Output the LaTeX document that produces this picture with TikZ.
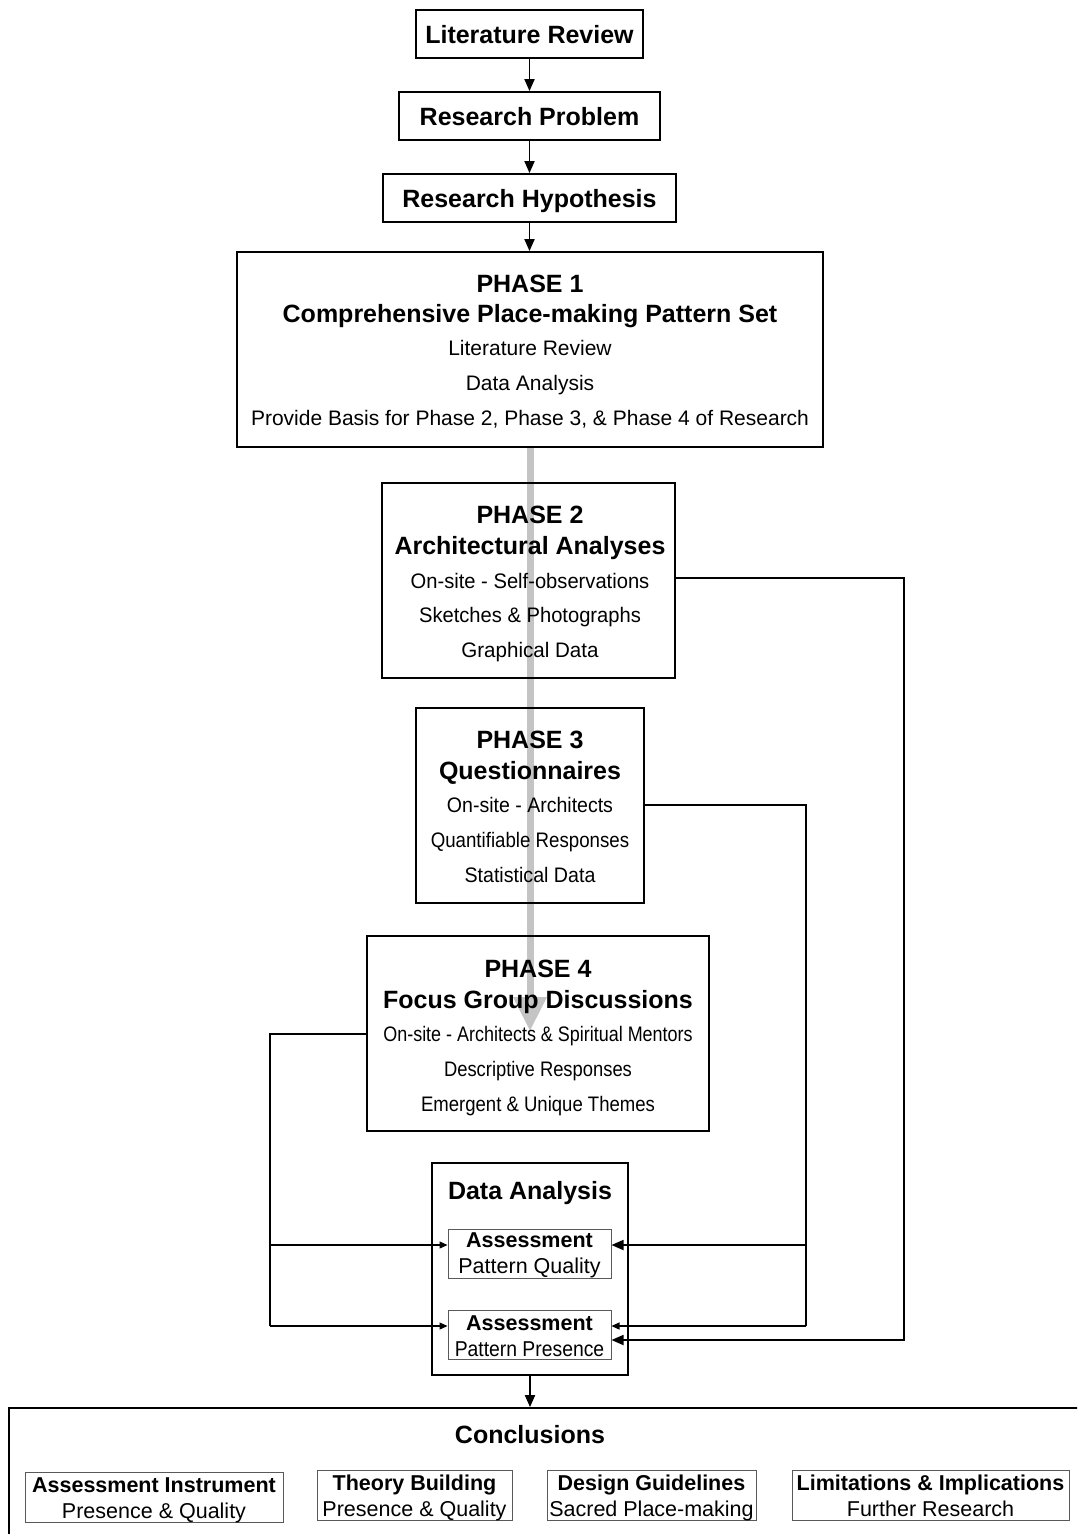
\documentclass[tikz,border=0pt]{standalone}
\usepackage{fontspec}
\setmainfont{Liberation Sans}
\usepackage{graphicx}
\usetikzlibrary{arrows.meta}
\pgfdeclarelayer{background}
\pgfsetlayers{background,main}
\newcommand{\cnd}[2]{\scalebox{#1}[1]{#2}}
\definecolor{shaftgray}{HTML}{C4C4C4}
\begin{document}
\begin{tikzpicture}[x=1pt,y=-1pt,
  box/.style={draw, line width=1.8pt, inner sep=0pt},
  onebox/.style={box, font=\fontsize{25}{30}\selectfont\bfseries, text height=18pt, text depth=0pt},
  sub/.style={draw=black!65, line width=1pt, inner sep=0pt},
  bt/.style={anchor=base, inner sep=0pt, font=\fontsize{25}{30}\selectfont\bfseries},
  rt/.style={anchor=base, inner sep=0pt, font=\fontsize{21}{25}\selectfont},
  sbt/.style={anchor=base, inner sep=0pt, font=\fontsize{21.5}{25}\selectfont\bfseries},
  srt/.style={anchor=base, inner sep=0pt, font=\fontsize{21.5}{25}\selectfont},
  conn/.style={line width=1.8pt},
  thinconn/.style={line width=1.2pt},
  bigtip/.style={-{Triangle[length=12pt,width=10pt]}},
  smalltip/.style={-{Triangle[length=8pt,width=7pt]}},
]
\clip (0,0) rectangle (1077,1534);

% top boxes
\node[onebox, minimum width=227pt, minimum height=48pt] (lit) at (529.5,34) {Literature Review};
\node[onebox, minimum width=261pt, minimum height=48pt] (prob) at (529.5,116) {Research Problem};
\node[onebox, minimum width=293pt, minimum height=48pt] (hyp) at (529.5,198) {Research Hypothesis};

% phase boxes
\node[box, minimum width=586pt, minimum height=195pt] (p1) at (530,349.5) {};
\node[box, minimum width=293pt, minimum height=195pt] (p2) at (528.5,580.5) {};
\node[box, minimum width=228pt, minimum height=195pt] (p3) at (530,805.5) {};
\node[box, minimum width=342pt, minimum height=195pt] (p4) at (538,1033.5) {};
\node[box, minimum width=196pt, minimum height=212pt] (da) at (530,1269) {};
\node[sub, minimum width=163pt, minimum height=49pt] (qual) at (529.5,1253.5) {};
\node[sub, minimum width=163pt, minimum height=49pt] (pres) at (529.5,1334.5) {};
\node[box, minimum width=1091pt, minimum height=152pt] (concl) at (554.5,1484) {};
\node[sub, minimum width=258pt, minimum height=50pt] (c1) at (154,1497) {};
\node[sub, minimum width=195pt, minimum height=50pt] (c2) at (414.5,1495) {};
\node[sub, minimum width=209pt, minimum height=50pt] (c3) at (651.5,1495) {};
\node[sub, minimum width=277pt, minimum height=50pt] (c4) at (930.5,1495) {};

% grey flow arrow behind
\coordinate (gtip) at (530,1031);
\begin{pgfonlayer}{background}
\draw[shaftgray, line width=7pt, -{Triangle[length=34pt,width=32pt]}] (p1.south) -- (gtip);
\end{pgfonlayer}

% texts phase 1
\node[bt] (t1a) at (530,292) {PHASE 1};
\node[bt] (t1b) at (530,322) {Comprehensive Place-making Pattern Set};
\node[rt] (t1c) at (530,355.5) {Literature Review};
\node[rt] (t1d) at (530,390.5) {Data Analysis};
\node[rt] (t1e) at (530,425.5) {Provide Basis for Phase 2, Phase 3, \& Phase 4 of Research};
% phase 2
\node[bt] (t2a) at (530,523) {PHASE 2};
\node[bt] (t2b) at (530,554) {Architectural Analyses};
\node[rt] (t2c) at (530,588.5) {\cnd{0.96}{On-site - Self-observations}};
\node[rt] (t2d) at (530,622.5) {\cnd{0.96}{Sketches \& Photographs}};
\node[rt] (t2e) at (530,657.5) {\cnd{0.98}{Graphical Data}};
% phase 3
\node[bt] (t3a) at (530,748) {PHASE 3};
\node[bt] (t3b) at (530,779) {Questionnaires};
\node[rt] (t3c) at (530,812.5) {\cnd{0.93}{On-site - Architects}};
\node[rt] (t3d) at (530,847.5) {\cnd{0.89}{Quantifiable Responses}};
\node[rt] (t3e) at (530,882.5) {\cnd{0.935}{Statistical Data}};
% phase 4
\node[bt] (t4a) at (538,977) {PHASE 4};
\node[bt] (t4b) at (538,1008) {Focus Group Discussions};
\node[rt] (t4c) at (538,1041.5) {\cnd{0.855}{On-site - Architects \& Spiritual Mentors}};
\node[rt] (t4d) at (538,1076.5) {\cnd{0.875}{Descriptive Responses}};
\node[rt] (t4e) at (538,1111.5) {\cnd{0.883}{Emergent \& Unique Themes}};
% data analysis
\node[bt] (tda) at (530,1199) {Data Analysis};
\node[sbt] (tqa) at (529.5,1247.7) {Assessment};
\node[srt] (tqb) at (529.5,1273.7) {Pattern Quality};
\node[sbt] (tpa) at (529.5,1330.7) {Assessment};
\node[srt] (tpb) at (529.5,1356.7) {\cnd{0.9}{Pattern Presence}};
% conclusions
\node[bt] (tc) at (530,1443) {Conclusions};
\node[sbt] (tc1a) at (154,1492.7) {Assessment Instrument};
\node[srt] (tc1b) at (154,1518.7) {Presence \& Quality};
\node[sbt] (tc2a) at (414.5,1490.7) {Theory Building};
\node[srt] (tc2b) at (414.5,1516.7) {Presence \& Quality};
\node[sbt] (tc3a) at (651.5,1490.7) {Design Guidelines};
\node[srt] (tc3b) at (651.5,1516.7) {Sacred Place-making};
\node[sbt] (tc4a) at (930.5,1490.7) {Limitations \& Implications};
\node[srt] (tc4b) at (930.5,1516.7) {Further Research};

% vertical chain
\draw[conn, bigtip] (lit.south) -- (prob.north);
\draw[conn, bigtip] (prob.south) -- (hyp.north);
\draw[conn, bigtip] (hyp.south) -- (hyp.south |- p1.north);
\draw[conn, bigtip] (da.south) -- (da.south |- concl.north);

% phase 2 feedback
\coordinate (r2) at (904,578);
\coordinate (r2b) at (904,1340);
\draw[conn, bigtip] (p2.east |- r2) -- (r2) -- (r2b) -- (pres.east |- r2b);

% phase 3 feedback
\coordinate (r3) at (806,805);
\coordinate (r3q) at (806,1245);
\coordinate (r3p) at (806,1326);
\draw[conn] (p3.east |- r3) -- (r3) -- (r3q);
\draw[conn, bigtip] (r3q) -- (qual.east |- r3q);
\draw[thinconn] (r3q) -- (r3p);
\draw[thinconn, smalltip] (r3p) -- (pres.east |- r3p);

% phase 4 feedback
\coordinate (l4) at (270,1034);
\coordinate (l4q) at (270,1245);
\coordinate (l4p) at (270,1326);
\draw[thinconn] (p4.west |- l4) -- (l4) -- (l4p);
\draw[thinconn, smalltip] (l4q) -- (qual.west |- l4q);
\draw[thinconn, smalltip] (l4p) -- (pres.west |- l4p);
\end{tikzpicture}
\end{document}
